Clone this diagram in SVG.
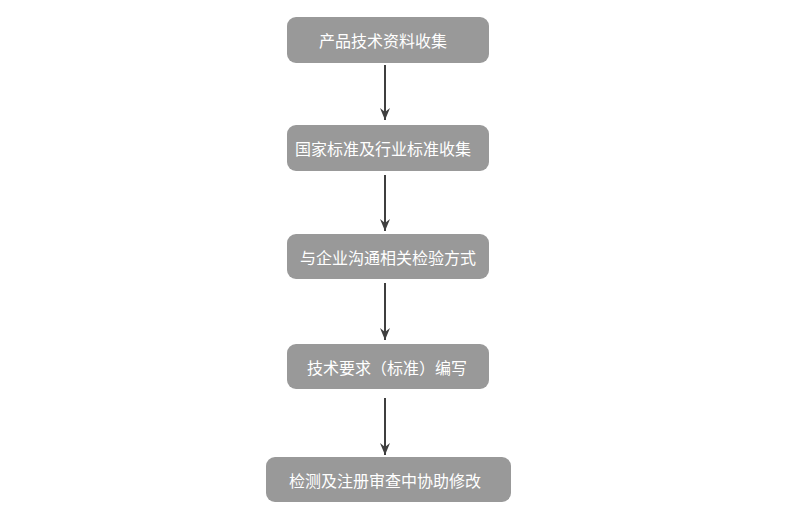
<svg xmlns="http://www.w3.org/2000/svg" width="800" height="505" viewBox="0 0 800 505">
<style>
.box{fill:#999999;}
.lbl{fill:#ffffff;font-family:"Noto Sans CJK SC","Noto Sans",sans-serif;font-size:16px;text-anchor:middle;dominant-baseline:central;}
.conn{stroke:#3f3f3f;stroke-width:2;fill:none;marker-end:url(#ah);}
</style>
<defs>
<marker id="ah" markerUnits="userSpaceOnUse" markerWidth="14" markerHeight="12" viewBox="0 0 14 12" refX="13" refY="6" orient="auto">
<path d="M1,1 L13,6 L1,11 L5,6 Z" fill="#3f3f3f"/>
</marker>
</defs>
<rect width="800" height="505" fill="#ffffff"/>
<g id="connectors">
<line class="conn" x1="385" y1="65" x2="385" y2="120"/>
<line class="conn" x1="385" y1="175" x2="385" y2="231"/>
<line class="conn" x1="385" y1="283" x2="385" y2="340"/>
<line class="conn" x1="385" y1="398" x2="385" y2="455"/>
</g>
<g id="n1"><rect class="box" x="287" y="17" width="202" height="46" rx="9"/><text class="lbl" x="383" y="40">产品技术资料收集</text></g>
<g id="n2"><rect class="box" x="287" y="125" width="202" height="46" rx="9"/><text class="lbl" x="383" y="148">国家标准及行业标准收集</text></g>
<g id="n3"><rect class="box" x="287" y="234" width="202" height="45" rx="9"/><text class="lbl" x="388" y="257">与企业沟通相关检验方式</text></g>
<g id="n4"><rect class="box" x="287" y="344" width="202" height="45" rx="9"/><text class="lbl" x="387" y="367">技术要求（标准）编写</text></g>
<g id="n5"><rect class="box" x="266" y="457" width="245" height="45" rx="9"/><text class="lbl" x="385" y="480">检测及注册审查中协助修改</text></g>
</svg>
